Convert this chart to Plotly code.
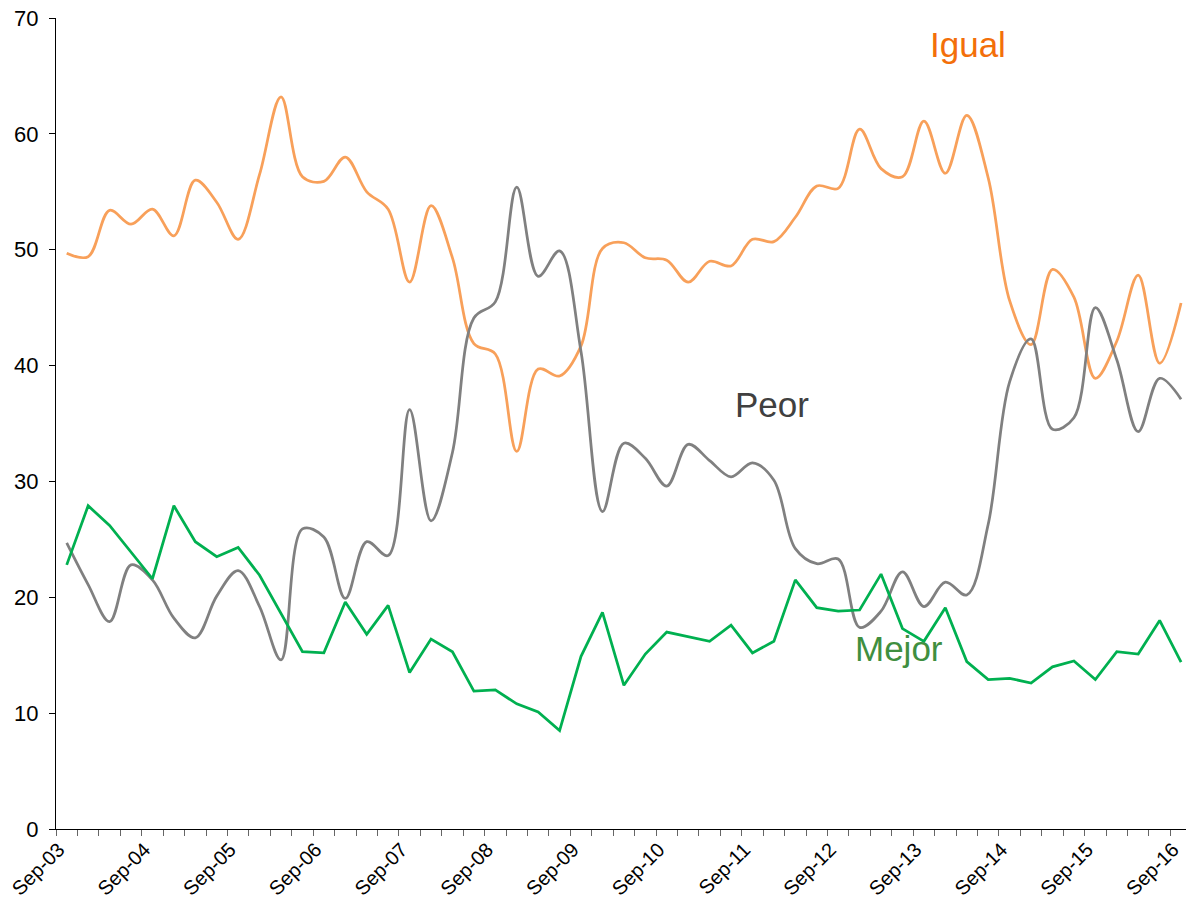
import plotly.graph_objects as go

categories = [
    "Sep-03", "Dec-03", "Mar-04", "Jun-04", "Sep-04", "Dec-04", "Mar-05", "Jun-05",
    "Sep-05", "Dec-05", "Mar-06", "Jun-06", "Sep-06", "Dec-06", "Mar-07", "Jun-07",
    "Sep-07", "Dec-07", "Mar-08", "Jun-08", "Sep-08", "Dec-08", "Mar-09", "Jun-09",
    "Sep-09", "Dec-09", "Mar-10", "Jun-10", "Sep-10", "Dec-10", "Mar-11", "Jun-11",
    "Sep-11", "Dec-11", "Mar-12", "Jun-12", "Sep-12", "Dec-12", "Mar-13", "Jun-13",
    "Sep-13", "Dec-13", "Mar-14", "Jun-14", "Sep-14", "Dec-14", "Mar-15", "Jun-15",
    "Sep-15", "Dec-15", "Mar-16", "Jun-16", "Sep-16",
]

igual = [49.7, 49.4, 53.4, 52.2, 53.5, 51.2, 56.0, 54.1, 50.9, 56.5,
         63.2, 56.3, 55.9, 58.0, 55.0, 53.5, 47.2, 53.8, 49.3, 41.9,
         41.0, 32.6, 39.7, 39.1, 41.7, 50.1, 50.6, 49.3, 49.1, 47.2,
         49.0, 48.6, 50.9, 50.7, 52.8, 55.5, 55.3, 60.4, 57.0, 56.3,
         61.1, 56.6, 61.6, 56.2, 45.6, 41.8, 48.3, 45.9, 38.9, 42.1,
         47.8, 40.2, 45.4]

peor = [24.7, 21.1, 17.9, 22.8, 21.5, 18.2, 16.5, 20.1, 22.3, 19.2,
        14.6, 25.9, 25.2, 19.9, 24.8, 23.6, 36.2, 26.6, 32.5, 44.1,
        45.5, 55.4, 47.7, 49.9, 41.2, 27.4, 33.3, 32.0, 29.6, 33.2,
        31.8, 30.4, 31.6, 30.1, 24.2, 22.9, 23.3, 17.4, 18.8, 22.2,
        19.2, 21.3, 20.2, 26.3, 38.6, 42.3, 34.5, 35.5, 45.0, 40.5,
        34.3, 38.9, 37.1]

mejor = [22.8, 27.9, 26.2, 23.9, 21.6, 27.9, 24.8, 23.5, 24.3, 21.9,
         18.6, 15.3, 15.2, 19.6, 16.8, 19.3, 13.5, 16.4, 15.3, 11.9,
         12.0, 10.8, 10.1, 8.5, 14.9, 18.7, 12.4, 15.1, 17.0, 16.6,
         16.2, 17.6, 15.2, 16.2, 21.5, 19.1, 18.8, 18.9, 22.0, 17.3,
         16.2, 19.1, 14.45, 12.9, 13.0, 12.6, 14.0, 14.5, 12.9, 15.3,
         15.1, 18.0, 14.4]

y_ticks = [0, 10, 20, 30, 40, 50, 60, 70]
tick_text = [c if c.startswith("Sep") else "" for c in categories]

FONT = "Liberation Sans, Arial, Helvetica, sans-serif"
LABEL_FONT = "Liberation Sans, Arial, sans-serif"

fig = go.Figure()
fig.add_trace(go.Scatter(x=categories, y=igual, mode="lines", name="Igual",
                         line=dict(color="#F8A05A", width=2.75, shape="spline", smoothing=1.0)))
fig.add_trace(go.Scatter(x=categories, y=peor, mode="lines", name="Peor",
                         line=dict(color="#808080", width=2.75, shape="spline", smoothing=1.0)))
fig.add_trace(go.Scatter(x=categories, y=mejor, mode="lines", name="Mejor",
                         line=dict(color="#00B050", width=2.75)))

fig.add_annotation(x=42.07, y=67.7, xref="x", yref="y", text="Igual", showarrow=False,
                   font=dict(family=LABEL_FONT, size=35, color="#F36F0A"),
                   xanchor="center", yanchor="middle")
fig.add_annotation(x=32.9, y=36.6, xref="x", yref="y", text="Peor", showarrow=False,
                   font=dict(family=LABEL_FONT, size=35, color="#404040"),
                   xanchor="center", yanchor="middle")
fig.add_annotation(x=38.85, y=15.6, xref="x", yref="y", text="Mejor", showarrow=False,
                   font=dict(family=LABEL_FONT, size=35, color="#3F8F40"),
                   xanchor="center", yanchor="middle")

fig.update_layout(
    width=1186, height=907,
    margin=dict(l=56, r=0, t=18, b=78),
    paper_bgcolor="white", plot_bgcolor="white",
    showlegend=False,
    font=dict(family=FONT, size=20, color="black"),
)
fig.update_xaxes(
    type="category",
    range=[-0.5, 52.23],
    tickmode="array", tickvals=categories, ticktext=tick_text,
    tickson="boundaries",
    ticks="outside", ticklen=6, tickwidth=1, tickcolor="#666666",
    tickangle=-45, ticklabelshift=-8,
    tickfont=dict(family=FONT, size=20, color="black"),
    showline=True, linecolor="black", linewidth=1,
    showgrid=False, zeroline=False, automargin=False,
)
fig.update_yaxes(
    range=[0, 70],
    tickmode="array", tickvals=y_ticks,
    ticks="outside", ticklen=6, tickwidth=1, tickcolor="black",
    tickfont=dict(family=FONT, size=22, color="black"),
    ticklabelstandoff=6,
    showline=True, linecolor="black", linewidth=1,
    showgrid=False, zeroline=False, automargin=False,
)

# remove the default page margin so the figure fills the window exactly
fig.write_html("out.html",
               config={"displayModeBar": False},
               post_script="document.body.style.margin='0px';document.body.style.overflow='hidden';")
